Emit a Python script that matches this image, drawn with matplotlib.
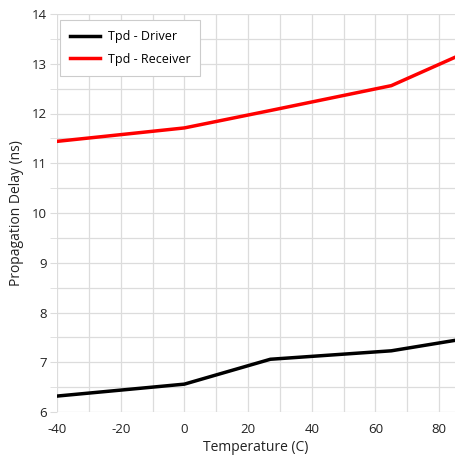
import matplotlib.pyplot as plt
from matplotlib.ticker import MultipleLocator

plt.rcParams['font.family'] = ['Open Sans', 'DejaVu Sans']
plt.rcParams['axes.unicode_minus'] = False

temp_driver = [-40, 0, 27, 65, 85]
tpd_driver = [6.32, 6.56, 7.06, 7.23, 7.44]
temp_receiver = [-40, 0, 27, 65, 85]
tpd_receiver = [11.44, 11.71, 12.06, 12.56, 13.13]

fig = plt.figure(figsize=(4.56, 4.59), dpi=100)
ax = fig.add_axes([57 / 456, 47 / 459, 398 / 456, 398 / 459])

ax.plot(temp_driver, tpd_driver, color='black', lw=2.5, label='Tpd - Driver')
ax.plot(temp_receiver, tpd_receiver, color='red', lw=2.5, label='Tpd - Receiver')

ax.set_xlim(-40, 85)
ax.set_ylim(6, 14)
ax.xaxis.set_major_locator(MultipleLocator(20))
ax.xaxis.set_minor_locator(MultipleLocator(10))
ax.yaxis.set_major_locator(MultipleLocator(1))
ax.yaxis.set_minor_locator(MultipleLocator(0.5))
ax.grid(which='both', color='#dcdcdc', lw=0.9)
ax.set_axisbelow(True)
for s in ax.spines.values():
    s.set_visible(False)
ax.tick_params(axis='x', which='both', length=0, pad=8, labelsize=9.5, colors='#222222')
ax.tick_params(axis='y', which='both', length=5, color='#dcdcdc', pad=2, labelsize=9.5, colors='#222222')
ax.tick_params(axis='y', labelcolor='#222222')

ax.set_xlabel('Temperature (C)', fontsize=10, color='#222222', labelpad=3)
ax.set_ylabel('Propagation Delay (ns)', fontsize=10, color='#222222', labelpad=6)

leg = ax.legend(loc='upper left', bbox_to_anchor=(0.008, 0.984), fontsize=9, fancybox=False,
                edgecolor='#cccccc', framealpha=1, handlelength=2.4, handletextpad=0.6,
                borderpad=0.8, labelspacing=0.75, borderaxespad=0)
leg.get_frame().set_linewidth(0.8)

fig.savefig('out.png', dpi=100)
